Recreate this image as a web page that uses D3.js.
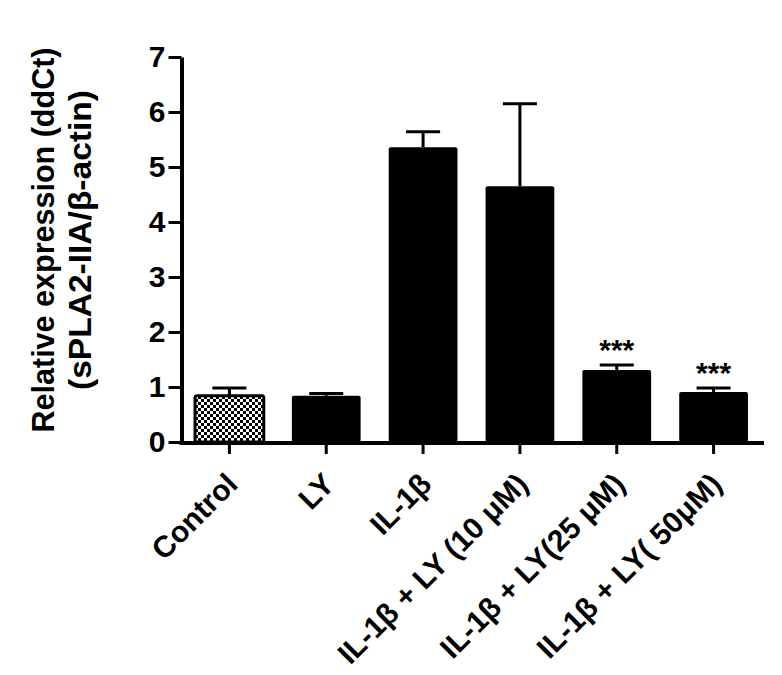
<!DOCTYPE html>
<head>
    <script src="https://d3js.org/d3.v7.min.js"></script>
</head>
<style>
body { margin: 0; background: #fff; }
text { font-family: "Liberation Sans", Arial, Helvetica, sans-serif; font-weight: bold; }
</style>
<body>
    <svg></svg>
</body>
<script>
    // Data
    var groups = ["Control", "LY", "IL-1β", "IL-1β + LY (10 μM)", "IL-1β + LY(25 μM)", "IL-1β + LY( 50μM)"];
    var means = [0.84, 0.84, 5.36, 4.65, 1.31, 0.91];
    var errors = [0.14, 0.04, 0.28, 1.50, 0.09, 0.07];
    var stars = ["", "", "", "", "***", "***"];
    var yTicks = [0, 1, 2, 3, 4, 5, 6, 7];

    var width = 782, height = 675;
    var svg = d3.select('svg').attr('width', width).attr('height', height);

    // checkered fill for the control bar
    var pat = svg.append('defs').append('pattern')
        .attr('id', 'check').attr('patternUnits', 'userSpaceOnUse')
        .attr('width', 6).attr('height', 6);
    pat.append('rect').attr('width', 6).attr('height', 6).attr('fill', '#fff');
    pat.append('rect').attr('width', 3).attr('height', 3).attr('fill', '#000');
    pat.append('rect').attr('x', 3).attr('y', 3).attr('width', 3).attr('height', 3).attr('fill', '#000');

    var x = d3.scaleBand().domain(groups).range([181, 762])
        .paddingInner(0.29).paddingOuter(0.145);
    var y = d3.scaleLinear().domain([0, 7]).range([442, 57]);

    // bars
    svg.selectAll('.bar').data(groups).enter().append('rect')
        .attr('class', 'bar')
        .attr('x', function (d) { return x(d); })
        .attr('y', function (d, i) { return y(means[i]); })
        .attr('width', x.bandwidth())
        .attr('height', function (d, i) { return y(0) - y(means[i]); })
        .attr('rx', 2)
        .attr('fill', function (d, i) { return i === 0 ? 'url(#check)' : '#000'; })
        .attr('stroke', '#000')
        .attr('stroke-width', function (d, i) { return i === 0 ? 3 : 0; });

    // error bars (upper only)
    var eb = svg.selectAll('.err').data(groups).enter().append('g').attr('class', 'err');
    eb.append('line')
        .attr('x1', function (d) { return x(d) + x.bandwidth() / 2; })
        .attr('x2', function (d) { return x(d) + x.bandwidth() / 2; })
        .attr('y1', function (d, i) { return y(means[i]); })
        .attr('y2', function (d, i) { return y(means[i] + errors[i]); })
        .attr('stroke', '#000').attr('stroke-width', 3);
    eb.append('line')
        .attr('x1', function (d) { return x(d) + x.bandwidth() / 2 - 17; })
        .attr('x2', function (d) { return x(d) + x.bandwidth() / 2 + 17; })
        .attr('y1', function (d, i) { return y(means[i] + errors[i]); })
        .attr('y2', function (d, i) { return y(means[i] + errors[i]); })
        .attr('stroke', '#000').attr('stroke-width', 3);

    // significance marks
    svg.selectAll('.star').data(groups).enter().append('text')
        .attr('x', function (d) { return x(d) + x.bandwidth() / 2; })
        .attr('y', function (d, i) { return y(means[i] + errors[i]) - 5; })
        .attr('text-anchor', 'middle')
        .style('font-size', '30px')
        .text(function (d, i) { return stars[i]; });

    // y axis
    var yAxis = svg.append('g').attr('transform', 'translate(181.5,0)')
        .call(d3.axisLeft(y).tickValues(yTicks).tickFormat(d3.format('d'))
            .tickSize(13).tickSizeOuter(0).tickPadding(3));
    yAxis.select('.domain').attr('stroke-width', 4);
    yAxis.selectAll('.tick line').attr('stroke-width', 3);
    yAxis.selectAll('.tick text').style('font-size', '30px').attr('fill', '#000');

    // x axis
    var xAxis = svg.append('g').attr('transform', 'translate(0,443)')
        .call(d3.axisBottom(x).tickSize(11).tickSizeOuter(0));
    xAxis.select('.domain').attr('d', 'M179.5,0H764').attr('stroke-width', 4);
    xAxis.selectAll('.tick line').attr('stroke-width', 3);
    xAxis.selectAll('.tick text')
        .attr('text-anchor', 'end')
        .attr('y', 0).attr('dy', 0)
        .attr('transform', 'translate(10,43) rotate(-45)')
        .style('font-size', '30px').attr('fill', '#000');

    // y axis title
    svg.append('text')
        .attr('transform', 'translate(54,240) rotate(-90)')
        .attr('text-anchor', 'middle')
        .attr('textLength', 385).attr('lengthAdjust', 'spacingAndGlyphs')
        .style('font-size', '31px')
        .text('Relative expression (ddCt)');
    svg.append('text')
        .attr('transform', 'translate(91,240) rotate(-90)')
        .attr('text-anchor', 'middle')
        .attr('textLength', 300).attr('lengthAdjust', 'spacingAndGlyphs')
        .style('font-size', '31px')
        .text('(sPLA2-IIA/β-actin)');
</script>
